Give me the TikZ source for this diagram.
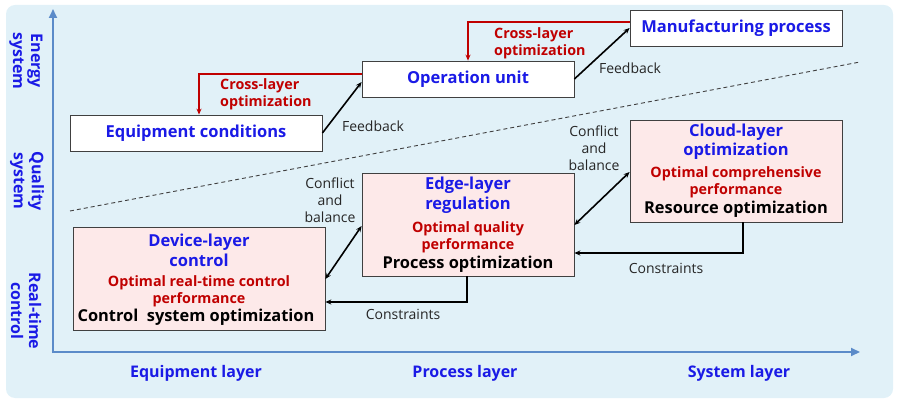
\documentclass[tikz,border=0pt]{standalone}
\usepackage{fontspec}
\setmainfont{Open Sans}
\usetikzlibrary{arrows.meta}
\definecolor{bgc}{HTML}{E1F1F8}
\definecolor{axisc}{HTML}{5B8BC9}
\definecolor{tblue}{HTML}{1A1AE6}
\definecolor{tred}{HTML}{C00000}
\definecolor{pinkc}{HTML}{FDE9E9}
\definecolor{edgec}{HTML}{404040}
\tikzset{
  wbox/.style={draw=edgec, line width=0.8pt, fill=white, inner sep=0pt},
  pbox/.style={draw=edgec, line width=0.8pt, fill=pinkc, inner sep=0pt},
  boxtitle/.style={text=tblue, font=\bfseries\fontsize{16.5}{19.5}\selectfont, inner sep=0pt, align=center},
  redtxt/.style={text=tred, font=\bfseries\fontsize{14.3}{17}\selectfont, inner sep=0pt, align=center},
  blktxt/.style={text=black, font=\bfseries\fontsize{16.4}{19}\selectfont, inner sep=0pt},
  plain/.style={text=black!85, font=\fontsize{14}{17}\selectfont, inner sep=0pt, align=center},
  axlab/.style={text=tblue, font=\bfseries\fontsize{16}{19}\selectfont, inner sep=0pt},
  vlab/.style={text=tblue, font=\bfseries\fontsize{16}{18}\selectfont, inner sep=0pt, align=center, rotate=-90},
  axisline/.style={draw=axisc, line width=2.2pt, -{Triangle[length=9pt,width=8pt]}},
  blkarr/.style={draw=black, line width=1.6pt, -{Stealth[length=6pt,width=5pt]}},
  dblarr/.style={draw=black, line width=1.6pt, {Stealth[length=6pt,width=5pt]}-{Stealth[length=6pt,width=5pt]}},
  redarr/.style={draw=tred, line width=1.8pt, -{Stealth[length=6pt,width=5pt]}},
}
\begin{document}
\begin{tikzpicture}[x=1pt,y=-1pt]
\useasboundingbox (0,0) rectangle (900,406);
\fill[bgc, rounded corners=9pt] (6,5) rectangle (893,398);

% axes
\coordinate (O) at (53,352);
\coordinate (ytip) at (53,9);
\coordinate (xtip) at (860,352);
\draw[axisline] ([yshift=-1.1pt]O) -- (ytip);
\draw[axisline] ([xshift=-1.1pt]O) -- (xtip);

% dashed separator
\coordinate (d1) at (70,211);
\coordinate (d2) at (860,62);
\draw[black!75, line width=0.9pt, dash pattern=on 4pt off 3pt] (d1) -- (d2);

% vertical labels
\node[vlab] (venergy) at (26,61) {Energy\\system};
\node[vlab] (vquality) at (27,181) {Quality\\system};
\node[vlab] (vreal) at (26,311) {Real-time\\control};

% axis labels
\node[axlab] (xeq) at (196,373) {Equipment layer};
\node[axlab] (xpr) at (465,373) {Process layer};
\node[axlab] (xsy) at (739,373) {System layer};

% upper boxes
\node[wbox, minimum width=252pt, minimum height=36pt] (eq) at (196,133) {};
\node[boxtitle] (eqt) at (eq.center) {Equipment conditions};
\node[wbox, minimum width=212pt, minimum height=36pt] (op) at (468,79) {};
\node[boxtitle] (opt) at (op.center) {Operation unit};
\node[wbox, minimum width=212pt, minimum height=36pt] (mf) at (736,28) {};
\node[boxtitle] (mft) at (mf.center) {Manufacturing process};

% lower boxes
\node[pbox, minimum width=252pt, minimum height=103pt] (dev) at (199,278.5) {};
\node[boxtitle] (dev1) at (199,250.5) {Device-layer\\control};
\node[redtxt] (dev2) at (199,291.5) {Optimal real-time control\\performance};
\node[blktxt] (dev3) at (196,317) {Control\ \ system optimization};

\node[pbox, minimum width=212pt, minimum height=103pt] (edg) at (468,224.5) {};
\node[boxtitle] (edg1) at (468,195) {Edge-layer\\regulation};
\node[redtxt] (edg2) at (468,237.5) {Optimal quality\\performance};
\node[blktxt] (edg3) at (468,264) {Process optimization};

\node[pbox, minimum width=212pt, minimum height=102pt] (cld) at (736,171) {};
\node[boxtitle] (cld1) at (736,141.5) {Cloud-layer\\optimization};
\node[redtxt] (cld2) at (736,182.5) {Optimal comprehensive\\performance};
\node[blktxt] (cld3) at (736,209) {Resource optimization};

% feedback arrows
\draw[blkarr] (eq.east) -- ([yshift=-3pt]op.west);
\draw[blkarr] (op.east) -- (mf.west);
\node[plain] (fb1) at (373,126) {Feedback};
\node[plain] (fb2) at (630,68) {Feedback};

% cross-layer optimization arrows
\draw[redarr] ([yshift=5pt]op.west) -| ([xshift=3pt]eq.north);
\draw[redarr] ([yshift=6pt]mf.west) -| (op.north);
\node[redtxt, align=left, anchor=west] (cl1) at (220,94) {Cross-layer\\optimization};
\node[redtxt, align=left, anchor=west] (cl2) at (494,43) {Cross-layer\\optimization};

% conflict and balance
\draw[dblarr] ([yshift=-0.5pt]dev.east) -- ([yshift=-1.5pt]edg.west);
\draw[dblarr] ([yshift=-0.5pt]edg.east) -- ([yshift=-1pt]cld.west);
\node[plain] (cb1) at (330,200) {Conflict\\and\\balance};
\node[plain] (cb2) at (594,148) {Conflict\\and\\balance};

% constraints
\coordinate (c1) at (743,253);
\draw[blkarr] (cld.south -| c1) |- (edg.east |- c1);
\coordinate (c2) at (467,302);
\draw[blkarr] (edg.south -| c2) |- (dev.east |- c2);
\node[plain] (cs1) at (666,268) {Constraints};
\node[plain] (cs2) at (403,314) {Constraints};
\end{tikzpicture}
\end{document}
